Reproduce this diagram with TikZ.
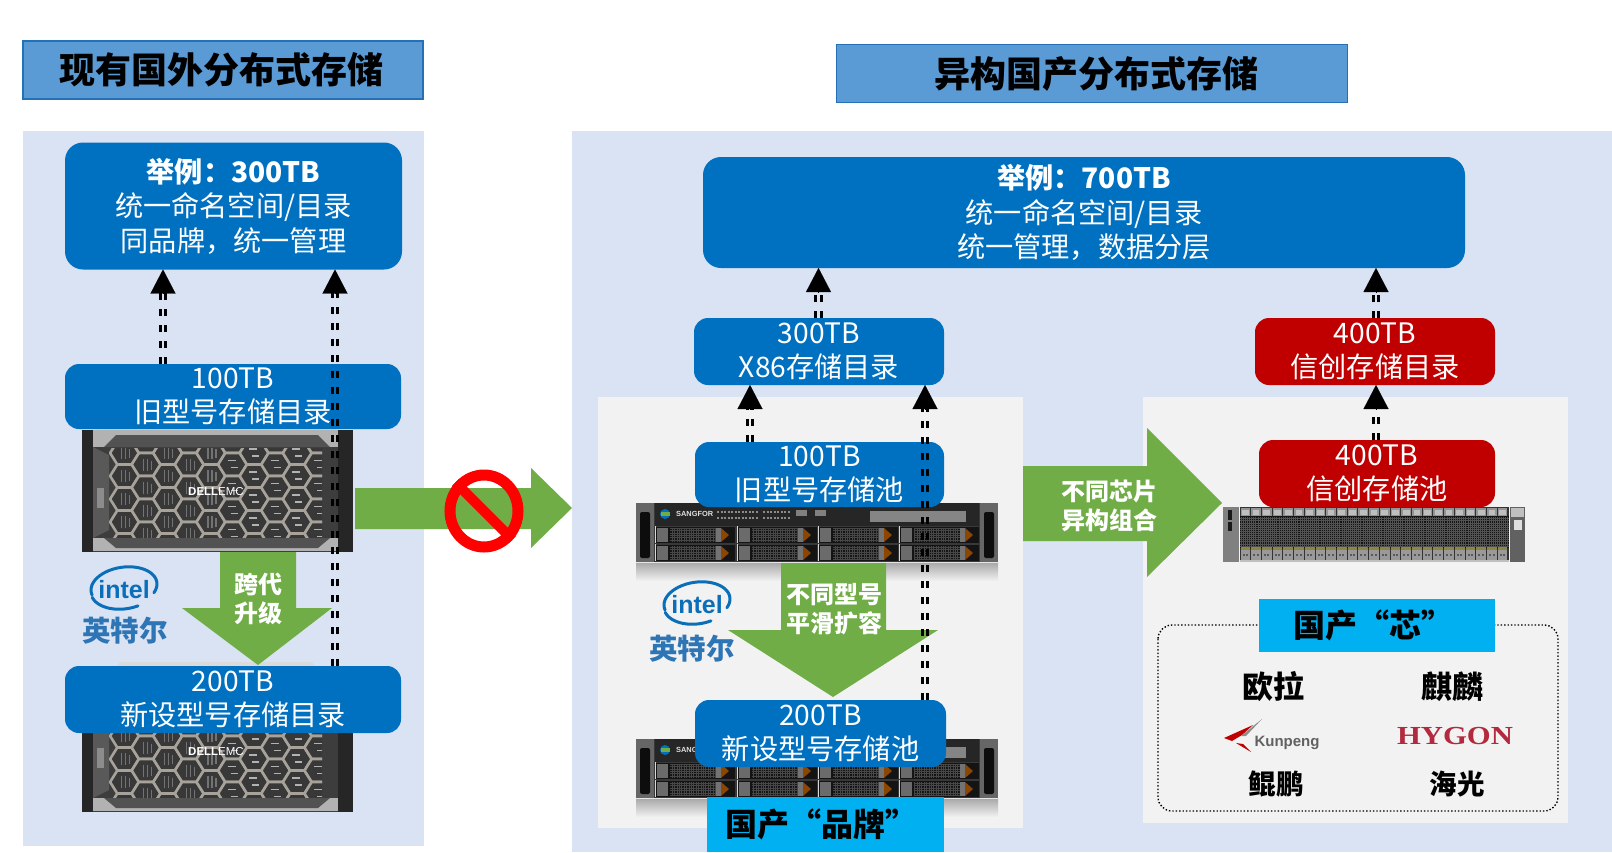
\documentclass[tikz,border=0pt]{standalone}
\usepackage{fontspec}
\setmainfont{Noto Sans CJK SC}
\newfontfamily\latfont{Liberation Sans}
\newfontfamily\serfont{Liberation Serif}
\usetikzlibrary{shapes.geometric,arrows.meta,calc}
\definecolor{panelblue}{HTML}{DAE3F3}
\definecolor{panelgrey}{HTML}{F2F2F2}
\definecolor{headblue}{HTML}{5B9BD5}
\definecolor{headline}{HTML}{2472B5}
\definecolor{boxblue}{HTML}{0070C0}
\definecolor{boxred}{HTML}{C00000}
\definecolor{cyanbox}{HTML}{00B0F0}
\definecolor{arrowgreen}{HTML}{70AD47}
\definecolor{intelblue}{HTML}{0A6FB8}
\definecolor{intelcn}{HTML}{2E75B6}
\definecolor{hexline}{HTML}{A8A39A}
\definecolor{hygon}{HTML}{B32A3F}
\tikzset{
  headbox/.style={draw=headline,line width=1.3pt,fill=headblue,inner sep=0,outer sep=0,font=\fontsize{36}{42}\selectfont\bfseries,text=black},
  infobox/.style={rounded corners=14pt,inner sep=0,outer sep=0,text=white,align=center,font=\fontsize{28.2}{34.5}\selectfont},
  bluebox/.style={infobox,fill=boxblue},
  redbox/.style={infobox,fill=boxred},
  cyanlabel/.style={fill=cyanbox,inner sep=0,outer sep=0,text=black,font=\fontsize{32}{36}\selectfont\bfseries},
  chipname/.style={inner sep=0,text=black,font=\bfseries},
  arrowtext/.style={inner sep=0,text=white,align=center,font=\fontsize{24}{28.5}\selectfont\bfseries},
  dashline/.style={line width=3pt,dash pattern=on 7.5pt off 8.5pt,draw=black},
  bigarrow/.style={fill=arrowgreen}
}
\newcommand{\dconn}[3]{% source, target, name of the head coordinate
  \coordinate (#3) at (#2);
  \draw[dashline,transform canvas={xshift=-2.7pt},shorten >=22pt] (#1) -- (#3);
  \draw[dashline,transform canvas={xshift=2.7pt},shorten >=22pt] (#1) -- (#3);
  \draw[line width=.1pt,-{Triangle[length=24pt,width=25pt]}] ($(#3)+(0,24)$) -- (#3);
}
\newcommand{\dellserver}[1]{%
\begin{scope}[shift={(0,#1)}]
  \fill[fill=black!14] (120,402) -- (312,402) -- (338,432) -- (95,432) -- cycle;
  \fill[fill=black!76] (84,430) rectangle (351,552);
  \fill[fill=black!30] (93,430) rectangle (338,447);
  \fill[fill=black!30] (93,538) rectangle (338,551);
  \fill[fill=black!68] (116,435) -- (318,435) -- (330,447) -- (104,447) -- cycle;
  \fill[fill=black!68] (104,538) -- (330,538) -- (318,548) -- (116,548) -- cycle;
  \fill[fill=black!85] (82,430) rectangle (93,552);
  \fill[fill=black!85] (338,430) rectangle (353,552);
  \fill[fill=black!65] (93,447) -- (109,455) -- (109,530) -- (93,538) -- cycle;
  \fill[fill=black!45] (97,488) rectangle (104,508);
  \begin{scope}
    \clip (109,448) rectangle (322,537);
    \foreach \c in {0,...,9}{\foreach \r in {-1,...,4}{
      \pgfmathsetmacro{\cx}{124.5+21.6*\c}
      \pgfmathsetmacro{\cy}{453+23*\r+11.5*mod(\c,2)}
      \draw[hexline,fill=black!78,line width=2.6pt,line join=round]
        (\cx-14.4,\cy) -- (\cx-7.2,\cy-11.5) -- (\cx+7.2,\cy-11.5) -- (\cx+14.4,\cy) -- (\cx+7.2,\cy+11.5) -- (\cx-7.2,\cy+11.5) -- cycle;
      \ifnum\c<5
        \draw[black!55,line width=1.2pt] (\cx-3,\cy-6) -- (\cx-3,\cy+6) (\cx+1,\cy-6) -- (\cx+1,\cy+6) (\cx+5,\cy-4) -- (\cx+5,\cy+5);
      \else
        \draw[black!30,line width=1.3pt] (\cx-5,\cy-4) -- (\cx+3,\cy-4) (\cx-2,\cy+3) -- (\cx+5,\cy+3);
      \fi
    }}
  \end{scope}
  \node[inner sep=0,text=white,font=\fontsize{11.5}{12}\selectfont\latfont] at (216,492) {\textbf{DELL}EMC};
\end{scope}}
\newcommand{\sangserver}[1]{%
\begin{scope}[shift={(0,#1)}]
  \shade[top color=black!35,bottom color=panelgrey] (636,562) rectangle (998,581);
  \fill[fill=black!78] (636,503) rectangle (998,562);
  \fill[fill=black!60] (636,503) rectangle (654,562);
  \fill[fill=black!60] (980,503) rectangle (998,562);
  \fill[fill=black!95,rounded corners=2pt] (640,512) rectangle (650,558);
  \fill[fill=black!95,rounded corners=2pt] (984,512) rectangle (994,558);
  \fill[fill=black!85] (655,503) rectangle (979,526);
  \fill[fill=boxblue] (665,514) circle (5pt);
  \fill[fill=arrowgreen] (660.5,512) rectangle (669.5,516);
  \node[inner sep=0,anchor=west,text=black!12,font=\fontsize{7.4}{8}\selectfont\latfont\bfseries] at (676,513.5) {SANGFOR};
  \draw[black!45,line width=2pt,dash pattern=on 2pt off 1.5pt] (717,512) -- (758,512) (717,518) -- (758,518) (763,512) -- (790,512) (763,518) -- (790,518);
  \fill[fill=black!50] (796,510) rectangle (807,516);
  \fill[fill=black!50] (815,510) rectangle (826,516);
  \fill[fill=black!48] (870,511) rectangle (966,522);
  \foreach \bx in {655,737,818,899}{\foreach \by in {527,545}{
    \fill[fill=black!92] (\bx,\by) rectangle (\bx+80,\by+16);
    \fill[fill=black!58] (\bx+2,\by+1) rectangle (\bx+13,\by+15);
    \begin{scope}
      \clip (\bx+15,\by+1) rectangle (\bx+61,\by+15);
      \draw[black!72,line width=.5pt,step=2.4pt] (\bx+15,\by+1) grid (\bx+61,\by+15);
    \end{scope}
    \fill[fill=black!55] (\bx+61,\by+1) rectangle (\bx+66,\by+15);
    \fill[fill=orange!55!black] (\bx+66,\by+1) -- (\bx+74,\by+8) -- (\bx+66,\by+15) -- cycle;
    \draw[black!15,line width=.8pt] (\bx,\by-1) -- (\bx,\by+16);
  }}
  \draw[black!10,line width=1pt] (636,562) -- (998,562);
\end{scope}}
\newcommand{\chipserver}{%
  \fill[fill=black!50] (1223,507) rectangle (1239,562);
  \fill[fill=black!90] (1228,510) rectangle (1232,520);
  \fill[fill=black!90] (1228,522) rectangle (1232,531);
  \fill[fill=black!62] (1510,507) rectangle (1525,562);
  \fill[fill=black!25] (1511,508) rectangle (1524,517);
  \fill[fill=black!12] (1514,520) rectangle (1522,530);
  \fill[fill=black!80] (1240,507) rectangle (1509,562);
  \fill[fill=black!92] (1240,516) rectangle (1509,548);
  \begin{scope}
    \clip (1240,517) rectangle (1509,547);
    \draw[black!68,line width=.7pt,step=2.1pt] (1240,517) grid (1509,547);
  \end{scope}
  \foreach \n in {0,...,24}{
    \pgfmathsetmacro{\bx}{1240.5+10.72*\n}
    \fill[fill=black!42] (\bx,508) rectangle (\bx+9.7,516);
    \fill[fill=black!25] (\bx+1.5,510) rectangle (\bx+8.2,514.5);
    \fill[fill=black!40] (\bx,549.5) rectangle (\bx+9.7,560);
    \fill[fill=olive!70!black!80] (\bx,547) rectangle (\bx+9.7,549.5);
    \fill[fill=black!65] (\bx+2,554) rectangle (\bx+4,555.5);
    \fill[fill=black!65] (\bx+5.5,554) rectangle (\bx+7.5,555.5);
  }
  \draw[black!25,line width=1.2pt] (1240,561) -- (1509,561);
}
\newcommand{\intellogo}[5]{% centre x, centre y, name, offset and drop of the Chinese name
  \node[inner sep=0,text=intelblue,font=\fontsize{25}{28}\selectfont\latfont\bfseries] (#3) at (#1,#2) {intel};
  \begin{scope}[shift={(#1,#2)}]
    \draw[intelblue,line width=3pt,line cap=round,smooth] plot[domain=195:-25,samples=32] ({33*cos(\x)},{-20*sin(\x)-3-3*cos(\x)});
    \draw[intelblue,line width=3pt,line cap=round,smooth] plot[domain=196:295,samples=20] ({33*cos(\x)},{-20*sin(\x)-1-3*cos(\x)});
  \end{scope}
  \node[inner sep=0,text=intelcn,font=\fontsize{28.5}{30}\selectfont\bfseries] at (#1+#4,#2+#5) {英特尔};
}
\begin{document}
\begin{tikzpicture}[x=1pt,y=-1pt]
\useasboundingbox (0,0) rectangle (1612,852);
\fill[white] (0,0) rectangle (1612,852);
% panels
\fill[panelblue] (23,131) rectangle (424,846);
\fill[panelblue] (572,131) rectangle (1612,852);
\fill[panelgrey] (598,397) rectangle (1023,828);
\fill[panelgrey] (1143,397) rectangle (1568,823);
% headers
\node[headbox,minimum width=400pt,minimum height=58pt] (hl) at (223,70) {\hspace*{-3pt}现有国外分布式存储};
\node[headbox,minimum width=511pt,minimum height=58pt] (hr) at (1092,73.5) {\hspace*{8pt}异构国产分布式存储};
% servers
\dellserver{0}
\dellserver{260}
\sangserver{0}
\sangserver{236}
\chipserver
% big arrows
\fill[bigarrow] (355,488) -- (531,488) -- (531,468) -- (572,508) -- (531,548) -- (531,529) -- (355,529) -- cycle;
\fill[bigarrow] (220,552) -- (296,552) -- (296,608) -- (332,608) -- (258,665) -- (182,608) -- (220,608) -- cycle;
\fill[bigarrow] (781,563) -- (886,563) -- (886,630) -- (938,630) -- (833,697) -- (728,630) -- (781,630) -- cycle;
\fill[bigarrow] (1023,466) -- (1147,466) -- (1147,428) -- (1222,503) -- (1147,577) -- (1147,541) -- (1023,541) -- cycle;
\node[arrowtext] (t1) at (258,599) {跨代\\升级};
\node[arrowtext] (t2) at (834,609) {不同型号\\平滑扩容};
\node[arrowtext] (t3) at (1109,506) {不同芯片\\异构组合};
% prohibition sign
\node[ellipse,draw=red,line width=11pt,minimum width=68pt,minimum height=72pt,inner sep=0] (nosign) at (484,511) {};
\draw[red,line width=10pt] (nosign.135) -- (nosign.-45);
% boxes
\node[bluebox,minimum width=337pt,minimum height=127pt,rounded corners=18pt] (ltop) at (233.5,206) {\textbf{举例：300TB}\\统一命名空间/目录\\同品牌，统一管理};
\node[bluebox,minimum width=336pt,minimum height=65pt] (l100) at (233,396.5) {100TB\\旧型号存储目录};
\node[bluebox,minimum width=336pt,minimum height=67pt] (l200) at (233,699.5) {200TB\\新设型号存储目录};
\node[bluebox,minimum width=762pt,minimum height=111pt,rounded corners=18pt] (rtop) at (1084,212.5) {\textbf{举例：700TB}\\统一命名空间/目录\\统一管理，数据分层};
\node[bluebox,minimum width=250pt,minimum height=67pt] (x300) at (819,351.5) {300TB\\X86存储目录};
\node[redbox,minimum width=240pt,minimum height=67pt] (x400) at (1375,351.5) {400TB\\信创存储目录};
\node[bluebox,minimum width=249pt,minimum height=65pt] (p100) at (819.5,474.5) {100TB\\旧型号存储池};
\node[bluebox,minimum width=251pt,minimum height=67pt] (p200) at (820.5,733.5) {200TB\\新设型号存储池};
\node[redbox,minimum width=236pt,minimum height=67pt] (p400) at (1377,473.5) {400TB\\信创存储池};
% dashed connectors
\coordinate (cA) at (163,0);
\coordinate (cB) at (335,0);
\coordinate (cC) at (818.5,0);
\coordinate (cD) at (1376,0);
\coordinate (cE) at (750,0);
\coordinate (cF) at (925,0);
\dconn{l100.north -| cA}{ltop.south -| cA}{hA}
\dconn{l200.north -| cB}{ltop.south -| cB}{hB}
\dconn{x300.north -| cC}{rtop.south -| cC}{hC}
\dconn{x400.north -| cD}{rtop.south -| cD}{hD}
\dconn{p100.north -| cE}{x300.south -| cE}{hE}
\dconn{p200.north -| cF}{x300.south -| cF}{hF}
\dconn{p400.north -| cD}{x400.south -| cD}{hG}
% brand labels
\node[cyanlabel,minimum width=237pt,minimum height=55pt] (brand) at (825.5,824.5) {\raisebox{-1pt}{\hspace*{-8pt}国产“品牌”}};
% intel logos
\intellogo{124}{590}{il}{1}{41}
\intellogo{697}{605}{ir}{-5}{44}
% chip group
\draw[black,line width=1.4pt,dotted,rounded corners=14pt] (1158,625) rectangle (1558,811);
\node[cyanlabel,minimum width=236pt,minimum height=53pt] (chip) at (1377,625.5) {\raisebox{-1pt}{\hspace*{-8pt}国产“芯”}};
\node[chipname,font=\fontsize{31}{34}\selectfont\bfseries] (euler) at (1273,687) {欧拉};
\node[chipname,font=\fontsize{31}{34}\selectfont\bfseries] (kirin) at (1452,687) {麒麟};
\node[chipname,font=\fontsize{27.5}{30}\selectfont\bfseries] (kp) at (1276,784) {鲲鹏};
\node[chipname,font=\fontsize{27.5}{30}\selectfont\bfseries] (hg) at (1457,784) {海光};
\node[inner sep=0,text=hygon,xscale=1.18,font=\fontsize{26}{28}\selectfont\serfont\bfseries] (hylogo) at (1455,736) {HYGON};
\node[inner sep=0,text=black!62,font=\fontsize{15}{18}\selectfont\latfont\bfseries] (kplogo) at (1287,743) {Kunpeng};
\fill[red!75!black] (1224,738) -- (1253,725) -- (1242,735) -- (1232,741) -- cycle;
\fill[red!75!black] (1236,743) -- (1243,744) -- (1251,752) -- cycle;
\fill[black!45] (1241,736) -- (1262,719) -- (1246,736) -- cycle;
\end{tikzpicture}
\end{document}
